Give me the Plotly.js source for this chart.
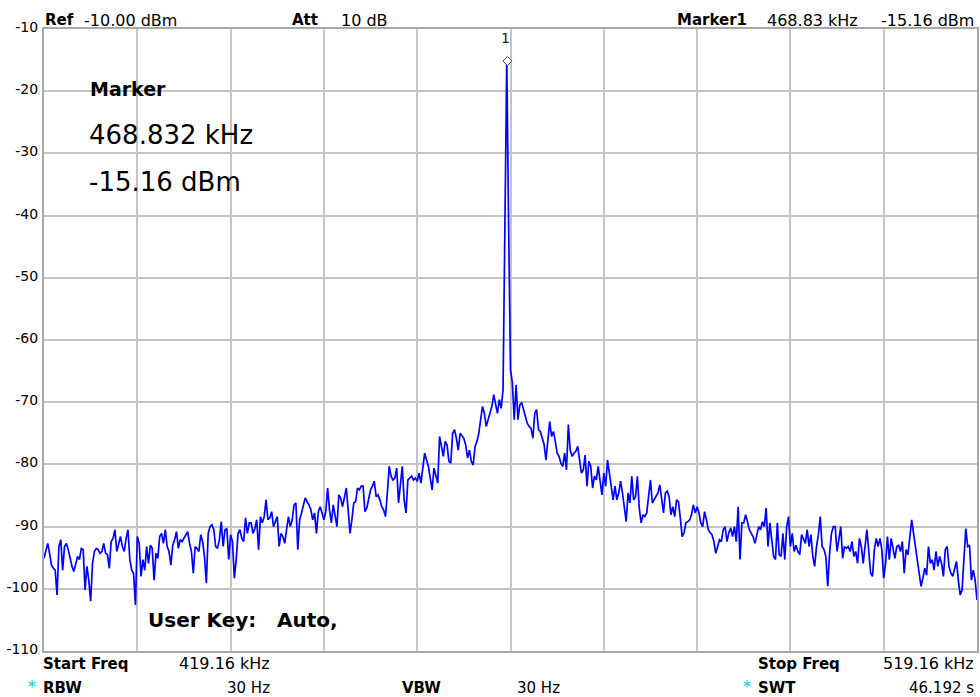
<!DOCTYPE html>
<html>
<head>
<meta charset="utf-8">
<script src="https://cdn.plot.ly/plotly-3.0.1.min.js"></script>
<style>html,body{margin:0;padding:0;background:#fff;}#chart{width:980px;height:697px;}</style>
</head>
<body>
<div id="chart"></div>
<script>
// ---- data ----
const startFreq = 419.16;   // kHz
const stopFreq = 519.16;    // kHz
const refLevel = -10;       // dBm
const bottomLevel = -110;   // dBm
const markerFreq = 468.832; // kHz
const markerLevel = -15.16; // dBm
const yTickVals = [-10, -20, -30, -40, -50, -60, -70, -80, -90, -100, -110];
const yTickText = ["-10", "-20", "-30", "-40", "-50", "-60", "-70", "-80", "-90", "-100", "-110"];

const div1 = [-95.1, -93.7, -92.7, -94.3, -96.2, -96.7, -97.0, -101.0, -93.2, -92.1, -97.0, -93.2, -92.7, -93.7, -95.3, -96.4, -97.2, -95.9, -94.8, -95.3, -93.5, -93.7, -100.2, -96.4, -98.6, -102.0, -95.9, -94.0, -93.5, -93.7, -94.3, -94.0, -92.7, -94.3, -94.5, -96.7, -92.4, -91.9, -90.5, -94.0, -93.0, -91.6, -93.2, -94.0, -91.9, -90.5, -95.3, -97.0, -97.5, -102.6];
const div2 = [-91.6, -92.7, -98.0, -95.3, -97.0, -93.2, -95.9, -93.0, -93.5, -98.6, -94.3, -95.1, -91.6, -91.1, -92.7, -90.5, -93.2, -94.0, -96.2, -93.0, -92.1, -90.8, -93.5, -92.1, -92.4, -91.9, -91.3, -90.8, -92.7, -94.0, -97.5, -93.2, -93.5, -94.0, -91.3, -92.4, -94.8, -99.1, -91.1, -90.0, -89.7, -90.5, -93.2, -93.5, -92.1, -89.2, -93.2, -90.5, -90.3, -95.3];
const div3 = [-91.3, -92.4, -98.3, -95.3, -91.1, -90.5, -91.9, -92.4, -88.6, -91.1, -89.4, -89.4, -91.1, -90.3, -88.9, -93.7, -88.4, -89.4, -88.4, -85.7, -88.9, -88.6, -87.6, -90.0, -89.2, -88.4, -93.2, -91.1, -91.6, -92.7, -90.5, -88.4, -90.0, -88.9, -86.5, -86.2, -93.7, -88.9, -87.8, -86.8, -85.4, -86.0, -86.5, -87.3, -88.9, -87.8, -91.1, -87.6, -86.8, -87.8];
const div4 = [-88.9, -87.6, -83.8, -87.3, -89.4, -86.5, -88.4, -90.0, -84.9, -85.4, -86.8, -85.4, -83.8, -87.3, -91.1, -88.9, -86.2, -86.0, -83.8, -84.1, -83.5, -83.5, -87.6, -87.0, -85.4, -84.1, -83.5, -82.7, -85.2, -84.9, -85.7, -86.8, -87.3, -88.4, -84.6, -80.3, -81.9, -82.5, -82.2, -80.6, -86.2, -83.5, -80.3, -85.7, -87.8, -82.5, -82.2, -81.9, -82.5, -82.2];
const div5 = [-82.7, -81.4, -83.0, -80.9, -78.2, -79.3, -80.3, -82.2, -84.1, -80.6, -81.9, -83.0, -75.5, -77.1, -78.7, -76.3, -76.9, -79.5, -79.8, -75.0, -74.4, -75.8, -77.7, -75.0, -75.5, -75.8, -76.9, -79.0, -77.7, -79.5, -80.1, -77.1, -76.3, -75.0, -72.8, -70.7, -71.8, -73.9, -72.8, -71.8, -70.7, -68.8, -70.4, -71.8, -69.6, -71.0, -68.0, -40.7];
const peak = [-15.16, -41.5];
const div6 = [-64.8, -66.9, -72.8, -67.2, -72.8, -70.4, -70.1, -71.2, -72.3, -73.4, -73.9, -74.2, -75.8, -71.8, -71.2, -74.4, -74.7, -76.0, -76.8, -79.3, -76.0, -73.1, -75.5, -74.7, -76.3, -78.2, -78.7, -79.8, -80.3, -78.2, -80.9, -73.6, -77.7, -78.7, -78.2, -77.9, -77.1, -79.0, -81.4, -80.9, -78.5, -83.5, -79.5, -80.3, -83.8, -81.9, -82.5, -80.3, -83.0, -84.9];
const div7 = [-81.4, -83.5, -79.3, -81.4, -84.1, -85.7, -83.5, -85.7, -84.6, -82.7, -84.6, -86.8, -89.2, -84.6, -86.2, -81.9, -85.7, -85.2, -81.9, -87.0, -89.4, -88.1, -88.4, -87.8, -85.2, -82.5, -86.2, -85.7, -85.2, -84.6, -83.3, -85.7, -87.8, -84.6, -84.3, -85.2, -88.1, -86.8, -88.4, -85.7, -86.0, -88.6, -91.6, -91.0, -89.4, -89.2, -88.9, -88.1, -86.5, -87.8];
const div8 = [-86.8, -87.8, -89.4, -90.0, -87.6, -88.9, -90.5, -91.0, -91.3, -92.4, -94.3, -93.2, -92.1, -92.4, -90.5, -90.0, -92.4, -91.0, -90.2, -91.6, -90.0, -92.4, -86.8, -95.3, -89.4, -89.4, -88.1, -89.2, -90.5, -91.1, -91.6, -92.7, -91.1, -90.0, -90.5, -89.2, -90.0, -87.0, -93.2, -89.4, -92.1, -94.8, -95.3, -89.4, -94.5, -94.8, -91.1, -95.3, -90.0, -88.4];
const div9 = [-93.2, -91.1, -94.0, -93.0, -94.0, -94.5, -91.3, -91.9, -92.7, -90.5, -93.2, -91.3, -94.8, -96.4, -93.2, -91.3, -88.4, -93.2, -93.7, -94.8, -99.6, -94.3, -91.1, -90.0, -90.0, -94.0, -92.1, -90.0, -95.1, -93.2, -93.5, -93.2, -94.0, -92.4, -94.8, -94.0, -95.9, -91.9, -93.2, -95.9, -93.2, -90.5, -94.0, -97.5, -98.0, -93.7, -91.9, -93.2, -91.9, -93.7];
const div10 = [-98.3, -95.9, -91.6, -95.3, -91.9, -93.7, -95.1, -93.2, -93.0, -94.0, -92.4, -97.5, -93.7, -94.5, -92.1, -88.9, -91.1, -93.2, -94.8, -97.5, -99.6, -98.3, -96.7, -97.8, -93.2, -95.9, -95.3, -97.0, -94.0, -96.4, -94.8, -95.9, -98.0, -93.7, -93.2, -96.4, -97.5, -98.0, -97.0, -95.6, -98.6, -101.0, -100.2, -95.3, -90.3, -93.2, -93.0, -98.6, -97.0, -98.6, -101.8];

const levels = [].concat(div1, div2, div3, div4, div5, peak, div6, div7, div8, div9, div10);
const nPts = levels.length;
const freqs = levels.map((_, i) => startFreq + i * (stopFreq - startFreq) / (nPts - 1));
const xGrid = [];
for (let k = 0; k <= 10; k++) xGrid.push(startFreq + k * (stopFreq - startFreq) / 10);

// ---- layout helpers (pixel placement of the instrument texts) ----
const W = 980, H = 697, L = 44, R = 3, T = 29, B = 46;
const PW = W - L - R, PH = H - T - B;
const FONT = "DejaVu Sans, Liberation Sans, Arial, sans-serif";
function ann(text, x, y, size, opt) {
  opt = opt || {};
  return {
    xref: 'paper', yref: 'paper',
    x: (x - L) / PW, y: 1 - (y - T) / PH,
    xanchor: opt.anchor || 'left', yanchor: 'middle',
    showarrow: false, borderpad: 0,
    text: text,
    font: {family: FONT, size: size, color: opt.color || '#000'}
  };
}

const annotations = [
  ann('<b>Ref</b>', 44, 20, 15),
  ann('-10.00 dBm', 83, 20, 16),
  ann('<b>Att</b>', 291, 20, 15),
  ann('10 dB', 340, 20, 16),
  ann('<b>Marker1</b>', 676, 20, 15),
  ann('468.83 kHz', 766, 20, 16),
  ann('-15.16 dBm', 975, 20, 16, {anchor: 'right'}),
  ann('1', 505.5, 38, 14, {anchor: 'center', color: '#222'}),
  ann('<b>Marker</b>', 89, 89, 19),
  ann('468.832 kHz', 88, 135, 26),
  ann('-15.16 dBm', 88, 182, 26),
  ann('<b>User Key:</b>', 147, 620, 20),
  ann('<b>Auto,</b>', 276, 620, 20),
  ann('<b>Start Freq</b>', 42, 664, 15),
  ann('419.16 kHz', 271, 664, 16, {anchor: 'right'}),
  ann('<b>*</b>', 27, 687, 15, {color: '#33d6f0'}),
  ann('<b>RBW</b>', 42, 688, 15),
  ann('30 Hz', 271, 688, 15, {anchor: 'right'}),
  ann('<b>VBW</b>', 401, 688, 15),
  ann('30 Hz', 516, 688, 15),
  ann('<b>Stop Freq</b>', 757, 664, 15),
  ann('519.16 kHz', 975, 664, 16, {anchor: 'right'}),
  ann('<b>*</b>', 742, 687, 15, {color: '#33d6f0'}),
  ann('<b>SWT</b>', 757, 688, 15),
  ann('46.192 s', 975, 688, 15, {anchor: 'right'})
];

const traces = [
  {
    x: freqs, y: levels, type: 'scatter', mode: 'lines',
    line: {color: '#0000ff', width: 1.7},
    hoverinfo: 'skip', cliponaxis: true
  },
  {
    x: [markerFreq], y: [markerLevel], type: 'scatter', mode: 'markers',
    marker: {symbol: 'diamond', size: 7, color: '#ffffff', line: {color: '#444', width: 1}},
    cliponaxis: false, hoverinfo: 'skip'
  }
];

const layout = {
  width: W, height: H,
  margin: {l: L, r: R, t: T, b: B, pad: 0},
  paper_bgcolor: '#ffffff', plot_bgcolor: '#ffffff',
  showlegend: false,
  xaxis: {
    range: [startFreq, stopFreq], tickvals: xGrid, showticklabels: false, ticks: '',
    showgrid: true, gridcolor: '#c4c4c4', gridwidth: 2, zeroline: false,
    showline: true, mirror: true, linecolor: '#a8a8a8', linewidth: 2, fixedrange: true
  },
  yaxis: {
    range: [bottomLevel, refLevel], tickvals: yTickVals, ticktext: yTickText, ticks: '',
    showgrid: true, gridcolor: '#c4c4c4', gridwidth: 2, zeroline: false,
    showline: true, mirror: true, linecolor: '#a8a8a8', linewidth: 2,
    tickfont: {family: FONT, size: 14, color: '#000'},
    ticklabelstandoff: 1, ticklabelshift: -2, fixedrange: true
  },
  annotations: annotations
};

Plotly.newPlot('chart', traces, layout, {staticPlot: true, displayModeBar: false});
</script>
</body>
</html>
